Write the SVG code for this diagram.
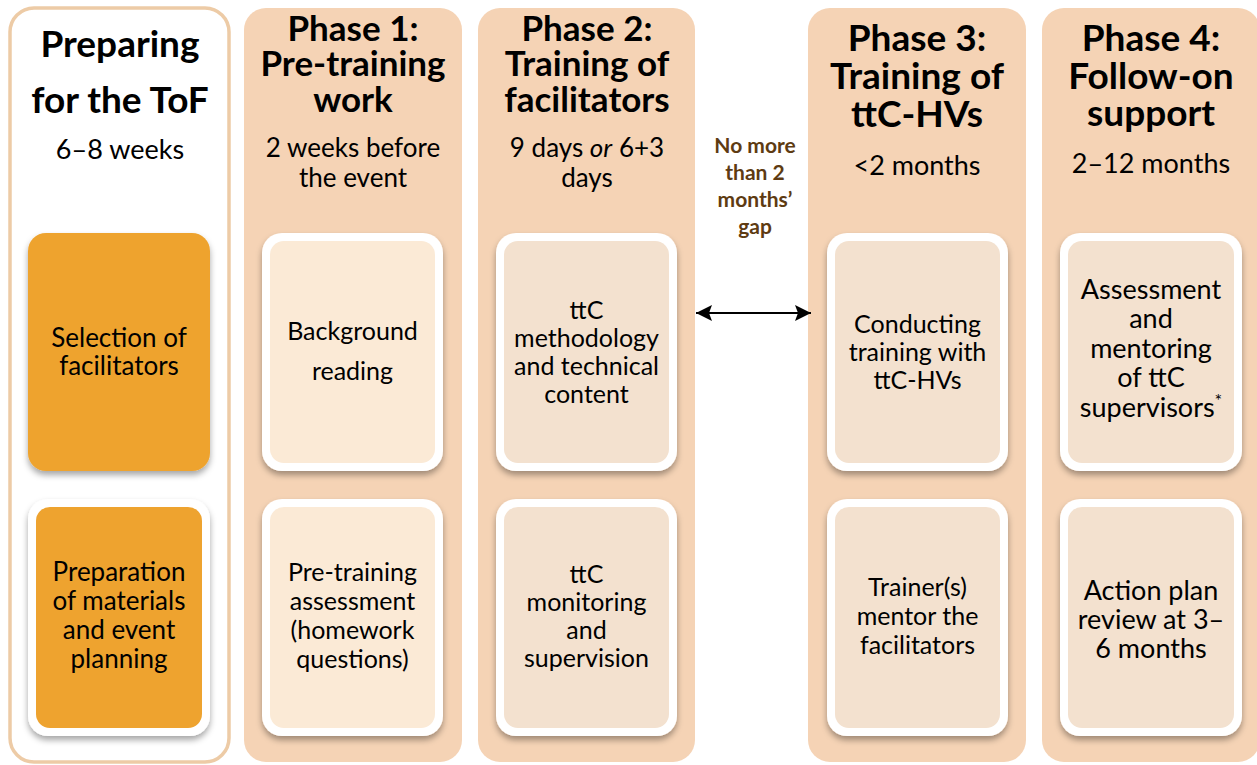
<svg xmlns="http://www.w3.org/2000/svg" width="1257" height="765" viewBox="0 0 1257 765">
<defs>
<style>
.col{fill:#F5D3B5;}
.prep{fill:#FFFFFF;stroke:#EDCBA6;stroke-width:3.5;}
.outer{fill:#FFFFFF;filter:url(#sh);}
.inA{fill:#FBEAD6;}
.inB{fill:#F3E1CF;}
.orange{fill:#EEA32F;}
.t{font-family:"Lato","Liberation Sans",sans-serif;fill:#000;text-anchor:middle;}
.h1{font-size:37px;font-weight:bold;}
.h2{font-size:35px;font-weight:bold;}
.h3{font-size:37px;font-weight:bold;}
.sub{font-size:26px;}
.card{font-size:25px;}
.card4{font-size:27px;}
.gap{font-family:"Lato","Liberation Sans",sans-serif;font-size:21px;font-weight:bold;fill:#5E3B12;text-anchor:middle;}
.conn{stroke:#000;stroke-width:2.2;fill:none;}
</style>
<filter id="sh" x="-10%" y="-10%" width="120%" height="125%">
<feDropShadow dx="0" dy="4" stdDeviation="3" flood-color="#000" flood-opacity="0.35"/>
</filter>
<marker id="ah" viewBox="0 0 16 16" refX="16" refY="8" markerWidth="16" markerHeight="16" markerUnits="userSpaceOnUse" orient="auto-start-reverse">
<path d="M0,0 L16,8 L0,16 L3,8 z" fill="#000"/>
</marker>
</defs>

<g id="col-prep">
<rect class="prep" x="10" y="8" width="219" height="754" rx="24"/>
<text class="t h1"><tspan x="120" y="57">Preparing</tspan><tspan x="120" y="113">for the ToF</tspan></text>
<text class="t sub" style="font-size:27px"><tspan x="120" y="159">6–8 weeks</tspan></text>
</g>
<g id="node-selection">
<rect class="orange" x="28" y="233" width="182" height="238" rx="18" filter="url(#sh)"/>
<text class="t card" style="font-size:26px"><tspan x="119" y="347">Selection of</tspan><tspan x="119" y="375">facilitators</tspan></text>
</g>
<g id="node-preparation">
<rect class="outer" x="28" y="499" width="182" height="237" rx="20"/>
<rect class="orange" x="36" y="507" width="166" height="221" rx="14"/>
<text class="t card" style="font-size:26px"><tspan x="119" y="581">Preparation</tspan><tspan x="119" y="610">of materials</tspan><tspan x="119" y="639">and event</tspan><tspan x="119" y="668">planning</tspan></text>
</g>

<g id="col-phase1">
<rect class="col" x="244" y="8" width="218" height="754" rx="22"/>
<text class="t h2"><tspan x="353" y="41">Phase 1:</tspan><tspan x="353" y="76">Pre-training</tspan><tspan x="353" y="112">work</tspan></text>
<text class="t sub"><tspan x="353" y="157">2 weeks before</tspan><tspan x="353" y="187">the event</tspan></text>
</g>
<g id="node-background">
<rect class="outer" x="262" y="233" width="181" height="238" rx="20"/>
<rect class="inA" x="270" y="241" width="165" height="222" rx="14"/>
<text class="t card"><tspan x="352.5" y="340">Background</tspan><tspan x="352.5" y="380">reading</tspan></text>
</g>
<g id="node-pretraining">
<rect class="outer" x="262" y="499" width="181" height="237" rx="20"/>
<rect class="inA" x="270" y="507" width="165" height="221" rx="14"/>
<text class="t card"><tspan x="352.5" y="581">Pre-training</tspan><tspan x="352.5" y="610">assessment</tspan><tspan x="352.5" y="639">(homework</tspan><tspan x="352.5" y="668">questions)</tspan></text>
</g>

<g id="col-phase2">
<rect class="col" x="478" y="8" width="217" height="754" rx="22"/>
<text class="t h2"><tspan x="587" y="41">Phase 2:</tspan><tspan x="587" y="76">Training of</tspan><tspan x="587" y="112">facilitators</tspan></text>
<text class="t sub"><tspan x="587" y="157">9 days <tspan font-style="italic">or</tspan> 6+3</tspan><tspan x="587" y="187">days</tspan></text>
</g>
<g id="node-methodology">
<rect class="outer" x="496" y="233" width="181" height="238" rx="20"/>
<rect class="inB" x="504" y="241" width="165" height="222" rx="14"/>
<text class="t card"><tspan x="586.5" y="319">ttC</tspan><tspan x="586.5" y="347">methodology</tspan><tspan x="586.5" y="375">and technical</tspan><tspan x="586.5" y="403">content</tspan></text>
</g>
<g id="node-monitoring">
<rect class="outer" x="496" y="499" width="181" height="237" rx="20"/>
<rect class="inB" x="504" y="507" width="165" height="221" rx="14"/>
<text class="t card"><tspan x="586.5" y="583">ttC</tspan><tspan x="586.5" y="611">monitoring</tspan><tspan x="586.5" y="639">and</tspan><tspan x="586.5" y="667">supervision</tspan></text>
</g>

<g id="gap-label">
<text class="gap"><tspan x="755" y="153">No more</tspan><tspan x="755" y="180">than 2</tspan><tspan x="755" y="207">months’</tspan><tspan x="755" y="234">gap</tspan></text>
</g>

<g id="col-phase3">
<rect class="col" x="808" y="8" width="218" height="754" rx="22"/>
<text class="t h3"><tspan x="917" y="51">Phase 3:</tspan><tspan x="917" y="89">Training of</tspan><tspan x="917" y="127">ttC-HVs</tspan></text>
<text class="t sub" style="font-size:27px"><tspan x="917" y="175">&lt;2 months</tspan></text>
</g>
<g id="node-conducting">
<rect class="outer" x="827" y="233" width="181" height="238" rx="20"/>
<rect class="inB" x="835" y="241" width="165" height="222" rx="14"/>
<text class="t card"><tspan x="917.5" y="333">Conducting</tspan><tspan x="917.5" y="361">training with</tspan><tspan x="917.5" y="389">ttC-HVs</tspan></text>
</g>
<g id="node-trainers">
<rect class="outer" x="827" y="499" width="181" height="237" rx="20"/>
<rect class="inB" x="835" y="507" width="165" height="221" rx="14"/>
<text class="t card"><tspan x="917.5" y="596">Trainer(s)</tspan><tspan x="917.5" y="625">mentor the</tspan><tspan x="917.5" y="654">facilitators</tspan></text>
</g>

<g id="col-phase4">
<rect class="col" x="1042" y="8" width="218" height="754" rx="22"/>
<text class="t h3"><tspan x="1151" y="51">Phase 4:</tspan><tspan x="1151" y="89">Follow-on</tspan><tspan x="1151" y="126">support</tspan></text>
<text class="t sub" style="font-size:27px"><tspan x="1151" y="173">2–12 months</tspan></text>
</g>
<g id="node-assessment">
<rect class="outer" x="1060" y="233" width="182" height="238" rx="20"/>
<rect class="inB" x="1068" y="241" width="166" height="222" rx="14"/>
<text class="t card4"><tspan x="1151" y="299">Assessment</tspan><tspan x="1151" y="328">and</tspan><tspan x="1151" y="358">mentoring</tspan><tspan x="1151" y="387">of ttC</tspan><tspan x="1151" y="417">supervisors<tspan font-size="18" dy="-10">*</tspan></tspan></text>
</g>
<g id="node-actionplan">
<rect class="outer" x="1060" y="499" width="182" height="237" rx="20"/>
<rect class="inB" x="1068" y="507" width="166" height="221" rx="14"/>
<text class="t card4"><tspan x="1151" y="600">Action plan</tspan><tspan x="1151" y="629">review at 3–</tspan><tspan x="1151" y="658">6 months</tspan></text>
</g>

<g id="connectors">
<line class="conn" x1="696" y1="313" x2="811" y2="313" marker-start="url(#ah)" marker-end="url(#ah)"/>
</g>
</svg>
